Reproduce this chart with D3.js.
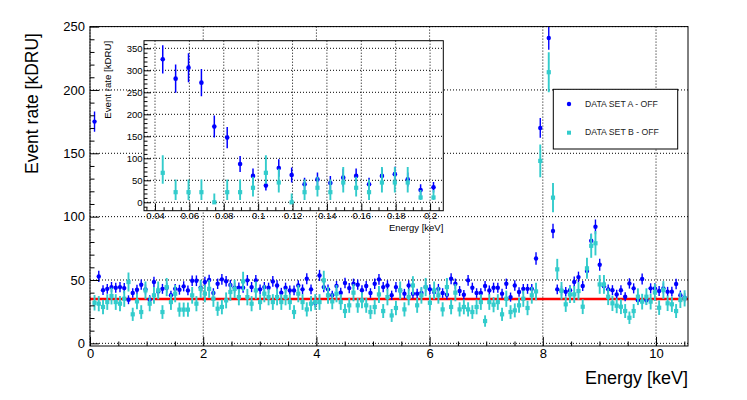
<!DOCTYPE html>
<html><head><meta charset="utf-8">
<script src="https://cdn.jsdelivr.net/npm/d3@7"></script>
<style>body{margin:0;background:#fff}svg{display:block;font-family:"Liberation Sans",Arial,sans-serif}</style>
</head><body><svg id="c" width="747" height="400"></svg>
<script>
// ---------------- DATA ----------------
const seriesNames = ["DATA SET A - OFF", "DATA SET B - OFF"];
const xTickLabels = [0, 2, 4, 6, 8, 10];
const yTickLabels = [0, 50, 100, 150, 200, 250];
const insetXTicks = [0.04, 0.06, 0.08, 0.1, 0.12, 0.14, 0.16, 0.18, 0.2];
const insetYTicks = [0, 50, 100, 150, 200, 250, 300, 350];
const fitLevel = 35; // red reference line

// main spectrum: 0.075 keV bins, first centre 0.08 keV
const rateA = [175,
 52.8,42,43,44.4,43.9,44.4,43.6,34.4,39.7,42.3,46.3,42.6,34.4,48.4,41,43,43.9,37.9,43,42.3,45,41.8,49.4,49.4,44,48.4,50,39.7,47,50.5,49,46,44,44,
 43.9,49.7,44.4,49.7,42.6,44.4,43.9,48.9,45.7,40,43.9,41.8,41.8,45.7,42.6,51,42.6,31.8,53.6,44.4,42.6,37.9,45.2,40,47.6,43.6,47,46.3,42,45.2,39.7,47,50.5,44.4,45.7,
 37.9,44.4,41.8,39.2,45.7,39.2,39.2,39.7,44.4,42.6,40.5,43,39.7,38.4,51,47,41.3,38.4,49.7,43.9,39.7,39.7,45.2,41.8,43.9,43.9,39.2,47,36.5,45.7,40.5,43,43,43,
 67,170,310,241,88.7,42.6,41.6,40.7,42,48.5,52.3,45.3,57,81,92,62,45,42.6,42,38.6,42,36.8,47.3,43.4,34,50.8,34,43.4,43.4,41.3,43.4,40.8,40.8,46.8,38,36];
const errA = [7.9,
 4.4,3.9,3.9,4.0,4.0,4.0,4.0,3.5,3.8,3.9,4.1,3.9,3.5,4.2,3.8,3.9,4.0,3.7,3.9,3.9,4.0,3.9,4.2,4.2,4.0,4.2,4.2,3.8,4.1,4.3,4.2,4.1,4.0,4.0,
 4.0,4.2,4.0,4.2,3.9,4.0,4.0,4.2,4.1,3.8,4.0,3.9,3.9,4.1,3.9,4.3,3.9,3.4,4.4,4.0,3.9,3.7,4.0,3.8,4.1,4.0,4.1,4.1,3.9,4.0,3.8,4.1,4.3,4.0,4.1,
 3.7,4.0,3.9,3.8,4.1,3.8,3.8,3.8,4.0,3.9,3.8,3.9,3.8,3.7,4.3,4.1,3.9,3.7,4.2,4.0,3.8,3.8,4.0,3.9,4.0,4.0,3.8,4.1,3.6,4.1,3.8,3.9,3.9,3.9,
 4.9,7.8,10.6,9.3,5.7,3.9,3.9,3.8,3.9,4.2,4.3,4.0,4.5,5.4,5.8,4.7,4.0,3.9,3.9,3.7,3.9,3.6,4.1,4.0,3.5,4.3,3.5,4.0,4.0,3.9,4.0,3.8,3.8,4.1,3.7,3.6];
const rateB = [32,
 31.3,28.7,32.6,37.3,32.6,31.3,35.2,48.4,22.9,33.1,24.7,41.8,31.3,37.9,41.8,24.7,44.4,32.6,39.2,26.6,26.6,26.6,37.9,31.3,43,39.2,43,35.2,27.3,28.7,33.9,40.5,43,36.5,
 48.9,36.5,31.3,41.8,32.6,39.2,36.5,32.6,36.5,32.6,36.5,32.6,24.7,39.2,32.6,26.8,31.3,32.6,32.6,49.7,37.9,33.1,39.2,32.6,25.5,30,40,30,33.9,30,24.7,28.7,38.6,25.5,36.5,
 22,27.9,41.8,26.8,36.5,45.7,30,37.9,44.4,32,41.8,37.9,26.8,44.4,28.7,40,26.8,28.7,26.8,24.7,28.7,32.6,17.6,32.6,30.5,32.6,22.9,35.2,24.7,26,30,35.2,27.9,37.9,
 41,144,280,214,115,58.4,41.5,30.8,38.6,38.6,41.3,28.9,59.2,77,79,46.5,46.5,36.8,31.6,29.7,28.9,25.5,20.2,25.5,36.8,32.9,36.8,32.9,40.2,28.1,42.1,31.6,30.8,25.5,34.2,35.5];
const errB = [6.1,
 6.0,5.8,6.2,6.6,6.2,6.0,6.4,7.5,5.2,6.2,5.4,7.0,6.0,6.6,7.0,5.4,7.2,6.2,6.8,5.6,5.6,5.6,6.6,6.0,7.1,6.8,7.1,6.4,5.6,5.8,6.3,6.9,7.1,6.5,
 7.6,6.5,6.0,7.0,6.2,6.8,6.5,6.2,6.5,6.2,6.5,6.2,5.4,6.8,6.2,5.6,6.0,6.2,6.2,7.6,6.6,6.2,6.8,6.2,5.5,5.9,6.8,5.9,6.3,5.9,5.4,5.8,6.7,5.5,6.5,
 5.1,5.7,7.0,5.6,6.5,7.3,5.9,6.6,7.2,6.1,7.0,6.6,5.6,7.2,5.8,6.8,5.6,5.8,5.6,5.4,5.8,6.2,4.5,6.2,6.0,6.2,5.2,6.4,5.4,5.5,5.9,6.4,5.7,6.6,
 6.9,13,18,15.8,11.6,8.3,7.0,6.0,6.7,6.7,6.9,5.8,8.3,9.5,9.6,7.4,7.4,6.6,6.1,5.9,5.8,5.5,4.9,5.5,6.6,6.2,6.6,6.2,6.8,5.7,7.0,6.1,6.0,5.5,6.3,6.4];
const energy = d3.range(rateA.length).map(i => 0.08 + 0.075 * i); // bin centres [keV]

// inset (low-energy zoom): 0.0075 keV bins
const insetA = [325,281,306,272,172,147,87,60,38,78,62,41,52,44,56,60,41,60,64,52,28,34];
const insetErrA = [32,32,33,31,25,24,18,17,11,20,17,15,16,16,20,17,15,17,17,16,13,12];
const insetB = [67,23,23,23,0,23,23,33,67,45,0,23,33,23,45,33,23,45,45,45,11,11];
const insetErrBHi = [40,29,29,29,20,29,29,25,40,31,20,29,25,29,35,25,29,35,35,35,17,17];
const insetErrBLo = [25,18,18,18,4,18,18,20,25,23,4,18,20,18,23,20,18,23,23,23,6,6];
const insetEnergy = d3.range(insetA.length).map(i => 0.0445 + 0.0075 * i);

// ---------------- STYLE ----------------
const blue = "#0000ff", cyan = "#33cccc", red = "#ff0000";
const FONT = "Liberation Sans, Arial, sans-serif";
const svg = d3.select("#c");
svg.append("rect").attr("width",747).attr("height",400).attr("fill","#fff");

// ---------------- MAIN ----------------
const F = {l:90, r:688, t:26.6, b:346};
const x = d3.scaleLinear().domain([0, 10.565]).range([F.l, F.r]);
const y = d3.scaleLinear().domain([-2.1, 250]).range([F.b, F.t]);

svg.append("defs").append("clipPath").attr("id","mc").append("rect")
  .attr("x",F.l).attr("y",F.t).attr("width",F.r-F.l).attr("height",F.b-F.t);

const grid = svg.append("g").attr("stroke","#000").attr("stroke-width",1).attr("stroke-dasharray","1,2");
grid.selectAll("line.gx").data(xTickLabels).join("line").attr("class","gx")
  .attr("x1",d=>x(d)).attr("x2",d=>x(d)).attr("y1",F.t).attr("y2",F.b);
grid.selectAll("line.gy").data(yTickLabels).join("line").attr("class","gy")
  .attr("x1",F.l).attr("x2",F.r).attr("y1",d=>y(d)).attr("y2",d=>y(d));

const plot = svg.append("g").attr("clip-path","url(#mc)");
plot.append("line").attr("x1",F.l).attr("x2",F.r).attr("y1",y(fitLevel)).attr("y2",y(fitLevel))
  .attr("stroke",red).attr("stroke-width",2.5);

function series(g, sx, sy, xv, vals, lo, hi, color, shape, sw, size){
  const s = g.append("g");
  s.selectAll("line").data(vals).join("line")
    .attr("x1",(d,i)=>sx(xv[i])).attr("x2",(d,i)=>sx(xv[i]))
    .attr("y1",(d,i)=>sy(d - lo[i])).attr("y2",(d,i)=>sy(d + hi[i]))
    .attr("stroke",color).attr("stroke-width",sw);
  if (shape === "circle") {
    s.selectAll("circle").data(vals).join("circle")
      .attr("cx",(d,i)=>sx(xv[i])).attr("cy",d=>sy(d)).attr("r",size).attr("fill",color);
  } else {
    s.selectAll("rect").data(vals).join("rect")
      .attr("x",(d,i)=>sx(xv[i])-size).attr("y",d=>sy(d)-size)
      .attr("width",2*size).attr("height",2*size).attr("fill",color);
  }
}
series(plot, x, y, energy, rateA, errA, errA, blue, "circle", 1.4, 2.2);
series(plot, x, y, energy, rateB, errB, errB, cyan, "square", 1.9, 2.1);

// main axes
function styleAxis(g){ g.select(".domain").remove(); g.attr("font-family",FONT).attr("fill","#000"); }
const yMinor = d3.range(0, 251, 10).filter(v => v % 50 !== 0);
const xMinor = d3.range(0, 10.51, 0.5).filter(v => v % 2 !== 0);
let g;
g = svg.append("g").attr("transform",`translate(${F.l},0)`)
  .call(d3.axisLeft(y).tickValues(yTickLabels).tickSize(-9).tickPadding(5)); styleAxis(g);
g.attr("font-size",13);
g = svg.append("g").attr("transform",`translate(${F.l},0)`)
  .call(d3.axisLeft(y).tickValues(yMinor).tickSize(-4.5).tickFormat("")); styleAxis(g);
g = svg.append("g").attr("transform",`translate(0,${F.b})`)
  .call(d3.axisBottom(x).tickValues(xTickLabels).tickSize(-9).tickPadding(3)); styleAxis(g);
g.attr("font-size",13);
g = svg.append("g").attr("transform",`translate(0,${F.b})`)
  .call(d3.axisBottom(x).tickValues(xMinor).tickSize(-4.5).tickFormat("")); styleAxis(g);

svg.append("rect").attr("x",F.l).attr("y",F.t).attr("width",F.r-F.l).attr("height",F.b-F.t)
  .attr("fill","none").attr("stroke","#000").attr("stroke-width",1);

svg.append("text").attr("x",F.r).attr("y",384).attr("text-anchor","end")
  .attr("font-family",FONT).attr("font-size",18).text("Energy [keV]");
svg.append("text").attr("transform","translate(37.5,33) rotate(-90)").attr("text-anchor","end")
  .attr("font-family",FONT).attr("font-size",17.5).text("Event rate [kDRU]");

// legend
const L = svg.append("g");
L.append("rect").attr("x",553.3).attr("y",89.3).attr("width",124.4).attr("height",59.7)
  .attr("fill","#fff").attr("stroke","#000").attr("stroke-width",1);
L.append("circle").attr("cx",569).attr("cy",104).attr("r",2.2).attr("fill",blue);
L.append("rect").attr("x",567).attr("y",130.7).attr("width",4).attr("height",4).attr("fill",cyan);
L.append("text").attr("x",585).attr("y",106.8).attr("font-family",FONT).attr("font-size",8.7)
  .attr("fill","#222").text(seriesNames[0]);
L.append("text").attr("x",585).attr("y",135.4).attr("font-family",FONT).attr("font-size",8.7)
  .attr("fill","#222").text(seriesNames[1]);

// ---------------- INSET ----------------
const I = {l:144, r:443.3, t:40.7, b:210.7};
const ix = d3.scaleLinear().domain([0.0336, 0.2077]).range([I.l, I.r]);
const iy = d3.scaleLinear().domain([-19.1, 367.3]).range([I.b, I.t]);
svg.append("defs").append("clipPath").attr("id","ic").append("rect")
  .attr("x",I.l).attr("y",I.t).attr("width",I.r-I.l).attr("height",I.b-I.t);
svg.append("rect").attr("x",I.l).attr("y",I.t).attr("width",I.r-I.l).attr("height",I.b-I.t).attr("fill","#fff");
const ig = svg.append("g").attr("stroke","#000").attr("stroke-width",1).attr("stroke-dasharray","1,2");
ig.selectAll("line.gx").data(insetXTicks).join("line").attr("class","gx")
  .attr("x1",d=>ix(d)).attr("x2",d=>ix(d)).attr("y1",I.t).attr("y2",I.b);
ig.selectAll("line.gy").data(insetYTicks).join("line").attr("class","gy")
  .attr("x1",I.l).attr("x2",I.r).attr("y1",d=>iy(d)).attr("y2",d=>iy(d));
const iplot = svg.append("g").attr("clip-path","url(#ic)");
series(iplot, ix, iy, insetEnergy, insetA, insetErrA, insetErrA, blue, "circle", 1.5, 2.3);
series(iplot, ix, iy, insetEnergy, insetB, insetErrBLo, insetErrBHi, cyan, "square", 1.9, 2.1);

const iyMinor = d3.range(-10, 361, 10).filter(v => v % 50 !== 0);
const ixMinor = d3.range(0.035, 0.2076, 0.005).filter(v => Math.abs(Math.round(v*50) - v*50) > 1e-6);
g = svg.append("g").attr("transform",`translate(${I.l},0)`)
  .call(d3.axisLeft(iy).tickValues(insetYTicks).tickSize(-7).tickPadding(1.5)); styleAxis(g);
g.attr("font-size",9.5);
g = svg.append("g").attr("transform",`translate(${I.l},0)`)
  .call(d3.axisLeft(iy).tickValues(iyMinor).tickSize(-3.5).tickFormat("")); styleAxis(g);
g = svg.append("g").attr("transform",`translate(0,${I.b})`)
  .call(d3.axisBottom(ix).tickValues(insetXTicks).tickSize(-7).tickPadding(1.5).tickFormat(d3.format("~g"))); styleAxis(g);
g.attr("font-size",9.5);
g = svg.append("g").attr("transform",`translate(0,${I.b})`)
  .call(d3.axisBottom(ix).tickValues(ixMinor).tickSize(-3.5).tickFormat("")); styleAxis(g);
svg.append("rect").attr("x",I.l).attr("y",I.t).attr("width",I.r-I.l).attr("height",I.b-I.t)
  .attr("fill","none").attr("stroke","#000").attr("stroke-width",1);
svg.append("text").attr("x",I.r).attr("y",231).attr("text-anchor","end")
  .attr("font-family",FONT).attr("font-size",9.5).text("Energy [keV]");
svg.append("text").attr("transform",`translate(111,${I.t}) rotate(-90)`).attr("text-anchor","end")
  .attr("font-family",FONT).attr("font-size",9.7).text("Event rate [kDRU]");
</script></body></html>
